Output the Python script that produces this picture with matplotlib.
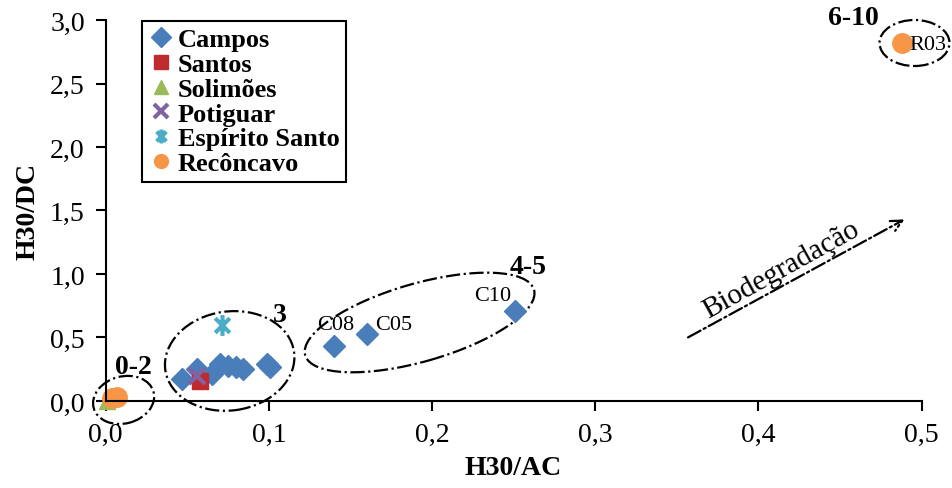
import matplotlib
matplotlib.use("Agg")
import matplotlib.pyplot as plt
from matplotlib.patches import Ellipse
from matplotlib.path import Path
from matplotlib.transforms import ScaledTranslation

plt.rcParams['font.family'] = ['Liberation Serif', 'DejaVu Serif']

# data
campos_x = [0.047, 0.056, 0.065, 0.070, 0.075, 0.080, 0.084, 0.099, 0.101, 0.140, 0.160, 0.251]
campos_y = [0.17, 0.25, 0.21, 0.29, 0.275, 0.27, 0.25, 0.29, 0.27, 0.43, 0.53, 0.71]
santos_x, santos_y = [0.058], [0.16]
solimoes_x, solimoes_y = [0.001], [0.0]
potiguar_x, potiguar_y = [0.056], [0.20]
esanto_x, esanto_y = [0.071], [0.60]
reconcavo_x = [0.004, 0.007, 0.488]
reconcavo_y = [0.02, 0.03, 2.82]

xticks = [0.0, 0.1, 0.2, 0.3, 0.4, 0.5]
yticks = [0.0, 0.5, 1.0, 1.5, 2.0, 2.5, 3.0]

fig = plt.figure(figsize=(9.52, 4.89), dpi=100)
ax = fig.add_axes([0.111, 0.178, 0.857, 0.779])

asterisk = Path([(0, -1), (0, 1), (-0.7, -0.7), (0.7, 0.7), (-0.7, 0.7), (0.7, -0.7)],
                [Path.MOVETO, Path.LINETO] * 3)

ax.plot(campos_x, campos_y, 'D', color='#4A7EBB', ms=11.5, mec='#4A7EBB', label='Campos', clip_on=False)
ax.plot(santos_x, santos_y, 's', color='#BE2A2E', ms=12, label='Santos', clip_on=False)
ax.plot(solimoes_x, solimoes_y, '^', color='#9BBB59', ms=12, label='Solimões', clip_on=False)
ax.plot(potiguar_x, potiguar_y, 'x', color='#8064A2', ms=12, mew=3, label='Potiguar', clip_on=False)
ax.plot(esanto_x, esanto_y, ls='none', marker=asterisk, color='#4BACC6', ms=15, mew=3,
        label='Espírito Santo', clip_on=False)
ax.plot(reconcavo_x, reconcavo_y, 'o', color='#F79646', ms=14, label='Recôncavo', clip_on=False)

# point labels
ax.annotate('C08', (campos_x[9], campos_y[9]), xytext=(1, 9), textcoords='offset points',
            ha='center', va='bottom', fontsize=16)
ax.annotate('C05', (campos_x[10], campos_y[10]), xytext=(6, 0), textcoords='offset points',
            ha='left', va='bottom', fontsize=16)
ax.annotate('C10', (campos_x[11], campos_y[11]), xytext=(-16, 4), textcoords='offset points',
            ha='center', va='bottom', fontsize=16)
ax.annotate('R03', (reconcavo_x[2], reconcavo_y[2]), xytext=(5, -1), textcoords='offset points',
            ha='left', va='center', fontsize=16, annotation_clip=False)

# groups: centre (data), width/height (inches), tilt, label, label position
groups = [
    ((0.011, 0.008), 0.62, 0.47, 15, '0-2', (0.017, 0.27)),
    ((0.076, 0.315), 1.30, 0.99, 8, '3', (0.107, 0.68)),
    ((0.1924, 0.618), 2.38, 0.78, 16, '4-5', (0.259, 1.06)),
    ((0.4957, 2.819), 0.70, 0.46, 0, '6-10', (0.458, 3.02)),
]
for (cx, cy), w, h, ang, lab, (lx, ly) in groups:
    e = Ellipse((0, 0), w, h, angle=ang, fill=False, ec='black', lw=1.6, ls='-.',
                transform=fig.dpi_scale_trans + ScaledTranslation(cx, cy, ax.transData),
                clip_on=False)
    ax.add_patch(e)
    ax.text(lx, ly, lab, fontsize=20, fontweight='bold', ha='center', va='center', clip_on=False)

# biodegradation arrow
ax.annotate('', xy=(0.491, 1.44), xytext=(0.3554, 0.49),
            arrowprops=dict(arrowstyle='->', ls='-.', lw=1.6, color='black',
                            mutation_scale=20))
ax.text(0.414, 1.04, 'Biodegradação', fontsize=21, rotation=29, rotation_mode='anchor',
        ha='center', va='center')

ax.set_xlim(0, 0.5)
ax.set_ylim(0, 3.0)
ax.set_xticks(xticks)
ax.set_yticks(yticks)
ax.set_xticklabels([f'{v:.1f}'.replace('.', ',') for v in xticks])
ax.set_yticklabels([f'{v:.1f}'.replace('.', ',') for v in yticks])
ax.tick_params(direction='out', length=7, width=1.5, labelsize=20, pad=8)
for s in ['top', 'right']:
    ax.spines[s].set_visible(False)
for s in ['left', 'bottom']:
    ax.spines[s].set_linewidth(1.5)

ax.set_xlabel('H30/AC', fontsize=20, fontweight='bold', labelpad=6)
ax.set_ylabel('H30/DC', fontsize=20, fontweight='bold', labelpad=7)

leg = ax.legend(loc='upper left', bbox_to_anchor=(0.045, 0.997), bbox_transform=ax.transAxes,
                borderaxespad=0, fancybox=False, edgecolor='black', framealpha=1,
                prop={'size': 19, 'weight': 'bold'}, handlelength=0.9, handletextpad=0.2,
                labelspacing=0.05, borderpad=0.25, numpoints=1)
leg.get_frame().set_linewidth(1.5)
for h in leg.legend_handles:
    h.set_markersize(10)

fig.savefig('out.png', dpi=100)
